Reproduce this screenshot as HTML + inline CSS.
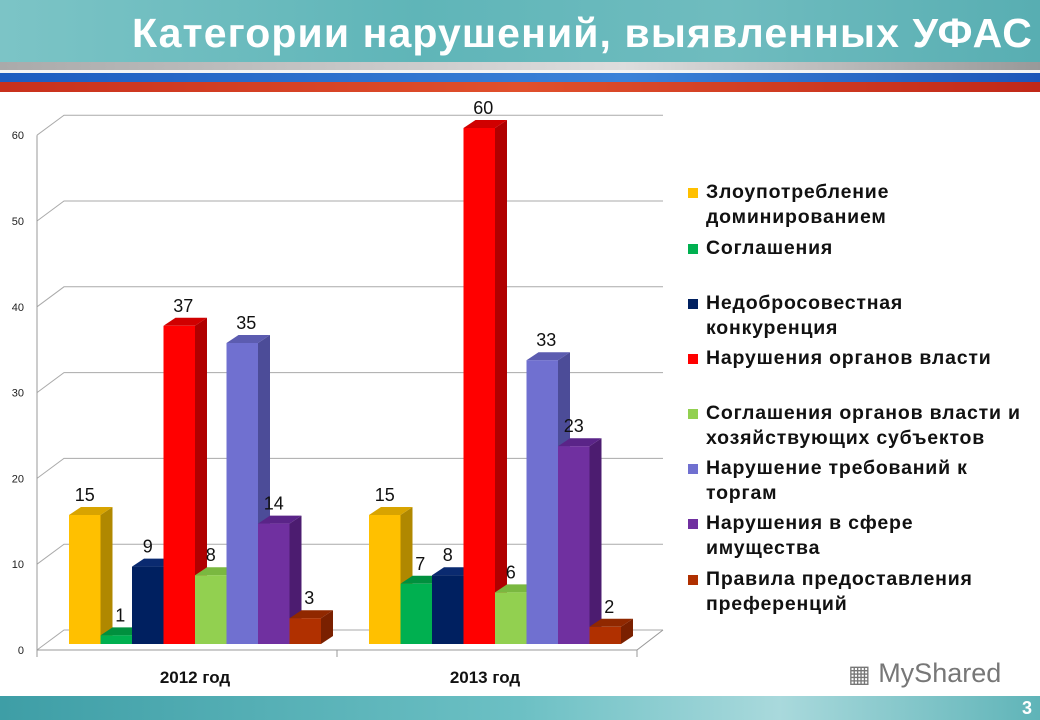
<!DOCTYPE html>
<html><head><meta charset="utf-8"><style>
body{margin:0;width:1040px;height:720px;overflow:hidden;background:#fff;font-family:"Liberation Sans",sans-serif;position:relative}
#hdr{position:absolute;left:0;top:0;width:1040px;height:62px;background:linear-gradient(90deg,#7cc4c6,#5fb5b8 40%,#6fbcbf 70%,#58aeb2)}
#title{position:absolute;left:132px;top:10px;font-size:41px;font-weight:bold;color:#fff;letter-spacing:1.1px;white-space:nowrap}
.st{position:absolute;left:0;width:1040px}
#foot{position:absolute;left:0;top:696px;width:1040px;height:24px;background:linear-gradient(90deg,#3e9ea6,#6cc0c4 50%,#a9d9dc 75%,#5fb4b8)}
#pg{position:absolute;right:8px;top:698px;color:#fff;font-weight:bold;font-size:18px}
.lg{position:absolute;left:706px;font-size:19.5px;font-weight:bold;color:#111;line-height:25px;white-space:nowrap;letter-spacing:0.8px}
.sw{position:absolute;left:688px;width:10px;height:10px}
</style></head><body>
<div id="hdr"></div>
<div id="title">Категории нарушений, выявленных УФАС</div>
<div class="st" style="top:62px;height:8px;background:linear-gradient(90deg,#aaa,#ddd 60%,#999)"></div>
<div class="st" style="top:70px;height:3px;background:#f4f4f4"></div>
<div class="st" style="top:73px;height:9px;background:linear-gradient(90deg,#1c5cc0,#3b82d8 60%,#1d56b8)"></div>
<div class="st" style="top:82px;height:10px;background:linear-gradient(90deg,#c8301c,#e0502c 50%,#c02818)"></div>
<svg id="chart" width="1040" height="720" style="position:absolute;left:0;top:0"></svg>
<div id="legend"></div>
<div style="position:absolute;left:848px;top:658px;font-size:27px;color:#777"><span style="font-size:24px">▦</span> MyShared</div>
<div id="foot"></div>
<div id="pg">3</div>
<script>
const categories=["2012 год","2013 год"];
const seriesNames=["Злоупотребление доминированием","Соглашения","Недобросовестная конкуренция","Нарушения органов власти","Соглашения органов власти и хозяйствующих субъектов","Нарушение требований к торгам","Нарушения в сфере имущества","Правила предоставления преференций"];
const v2012=[15,1,9,37,8,35,14,3];
const v2013=[15,7,8,60,6,33,23,2];
const ticks=[0,10,20,30,40,50,60];
const colors=["#ffc000","#00b050","#002060","#ff0000","#92d050","#7070d0","#7030a0","#b03000"];
const sides=["#b08800","#007a38","#001640","#b00000","#68a030","#4c4c98","#4c1c70","#7a2000"];
const tops=["#d8a400","#00903e","#0a2a70","#d00000","#7ab840","#5c5cb0","#5a2488","#902800"];
const legendLines=[["Злоупотребление","доминированием"],["Соглашения"],["Недобросовестная","конкуренция"],["Нарушения органов власти"],["Соглашения органов власти и","хозяйствующих субъектов"],["Нарушение требований к","торгам"],["Нарушения в сфере","имущества"],["Правила предоставления","преференций"]];
const legendY=[180,236,291,346,401,456,511,567];
const svg=document.getElementById('chart');const NS="http://www.w3.org/2000/svg";
function el(t,a,txt){const e=document.createElementNS(NS,t);for(const k in a)e.setAttribute(k,a[k]);if(txt!==undefined)e.textContent=txt;svg.appendChild(e);return e;}
const fy=v=>650-v*8.58, by=v=>630-v*8.58, barY=v=>644-v*8.6;
const DX=27;
for(const t of ticks){
 let g=el('polyline',{points:`37,${fy(t)} ${37+DX},${by(t)} 663,${by(t)}`,fill:'none',stroke:'#aaa','stroke-width':1});
 
 let l=el('text',{x:24,y:fy(t)+4,'text-anchor':'end','font-size':11,fill:'#222'},t);
 
}
let ax=el('line',{x1:37,y1:fy(0),x2:37,y2:fy(60),stroke:'#999'});
let fl=el('polyline',{points:`37,650 637,650 663,630`,fill:'none',stroke:'#999'});
for(const x of [37,337,637]){let t=el('line',{x1:x,y1:650,x2:x,y2:657,stroke:'#999'});}
const groupStart=[69,369],W=31.5,dx=12,dy=8;
[v2012,v2013].forEach((vals,gi)=>{
 vals.forEach((v,i)=>{
  const x=groupStart[gi]+i*W,y=barY(v),b=644;
  let s=el('polygon',{points:`${x+W},${y} ${x+W+dx},${y-dy} ${x+W+dx},${b-dy} ${x+W},${b}`,fill:sides[i]});
  
  let tp=el('polygon',{points:`${x},${y} ${x+dx},${y-dy} ${x+W+dx},${y-dy} ${x+W},${y}`,fill:tops[i]});
  
  let r=el('rect',{x:x,y:y,width:W,height:b-y,fill:colors[i]});
  
  let lb=el('text',{x:x+W/2+(i%2?4:0),y:y-14,'text-anchor':'middle','font-size':18,fill:'#111'},v);
  
 });
 let c=el('text',{x:[195,485][gi],y:683,'text-anchor':'middle','font-size':17,'font-weight':'bold',fill:'#111'},categories[gi]);
 
});
const lgd=document.getElementById('legend');
legendLines.forEach((lines,i)=>{
 const sw=document.createElement('div');sw.className='sw';sw.style.top=(legendY[i]+8)+'px';sw.style.background=colors[i];
 lgd.appendChild(sw);
 const t=document.createElement('div');t.className='lg';t.style.top=legendY[i]+'px';t.innerHTML=lines.join('<br>');
 lgd.appendChild(t);
});
</script>
</body></html>
